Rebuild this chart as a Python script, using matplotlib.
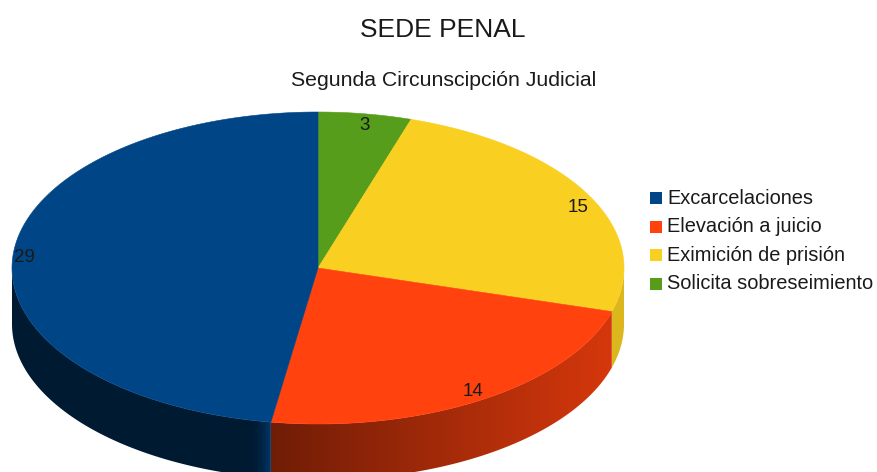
import numpy as np
import matplotlib
matplotlib.use("Agg")
import matplotlib.pyplot as plt
from matplotlib.patches import Polygon, Rectangle

plt.rcParams['font.family'] = ['Liberation Sans', 'DejaVu Sans']

# slices, clockwise from 12 o'clock
categories = ["Solicita sobreseimiento", "Eximición de prisión", "Elevación a juicio", "Excarcelaciones"]
values = [3, 15, 14, 29]
colors = ["#579d1c", "#f9d021", "#ff420e", "#004586"]
legend_order = ["Excarcelaciones", "Elevación a juicio", "Eximición de prisión", "Solicita sobreseimiento"]

# pie geometry in pixels
cx, cy = 318, 268
rx, ry = 306, 156
depth = 56

label_xy = [(365, 126), (578, 207), (473, 391), (24, 257)]


def ell(a, dy=0):
    # a = clockwise angle from the top, degrees
    a = np.radians(a)
    return np.column_stack([cx + rx * np.sin(a), cy - ry * np.cos(a) + dy])


def side_shade(color, x):
    # darker toward the lower left, like the LibreOffice 3D pie
    rgb = np.array(matplotlib.colors.to_rgb(color))
    if color == "#004586":
        # blue wall is almost flat dark, with a short lighter strip at the front
        f = 0.38 + 0.45 * np.clip((x - 250) / 22.0, 0, 1) ** 2
    elif color == "#f9d021":
        f = 0.88 + 0 * x
    else:
        f = 0.44 + 0.40 * np.clip((x - 272) / 340.0, 0, 1)
    return f[:, None] * rgb


fig = plt.figure(figsize=(8.77, 4.72), dpi=100)
ax = fig.add_axes([0, 0, 1, 1])

edges = np.cumsum([0] + values) / sum(values) * 360

# side wall first, only the front half is visible
for i, col in enumerate(colors):
    a0, a1 = max(edges[i], 90), min(edges[i + 1], 270)
    if a1 <= a0:
        continue
    aa = np.linspace(a0, a1, 300)
    top = ell(aa)
    bot = ell(aa, depth)
    outline = Polygon(np.vstack([top, bot[::-1]]), closed=True, transform=ax.transData)
    x0, x1 = top[:, 0].min(), top[:, 0].max()
    xs = np.linspace(x0, x1, 400)
    grad = side_shade(col, xs)[None, :, :]
    im = ax.imshow(grad, extent=[x0, x1, cy + ry + depth, cy], aspect='auto', zorder=1, interpolation='bilinear')
    im.set_clip_path(outline)

ax.set_xlim(0, 877)
ax.set_ylim(472, 0)
ax.axis('off')

# top face
for i, col in enumerate(colors):
    aa = np.linspace(edges[i], edges[i + 1], 200)
    pts = np.vstack([[cx, cy], ell(aa)])
    ax.add_patch(Polygon(pts, closed=True, facecolor=col, edgecolor=col, linewidth=0.4, zorder=2))

for v, (x, y) in zip(values, label_xy):
    ax.text(x, y, str(v), ha='center', va='center', fontsize=13.5, color='#1a1a1a', zorder=3)

ax.text(443, 30, "SEDE PENAL", ha='center', va='center', fontsize=19, color='#1a1a1a')
ax.text(444, 80, "Segunda Circunscipción Judicial", ha='center', va='center', fontsize=15.3, color='#1a1a1a')

# legend
color_of = dict(zip(categories, colors))
for i, name in enumerate(legend_order):
    y = 198 + i * 28.6
    ax.add_patch(Rectangle((650, y - 6), 12, 12, facecolor=color_of[name], edgecolor='none'))
    ax.text(667, y, name, ha='left', va='center', fontsize=14.4, color='#1a1a1a')

fig.savefig("out.png", dpi=100)
